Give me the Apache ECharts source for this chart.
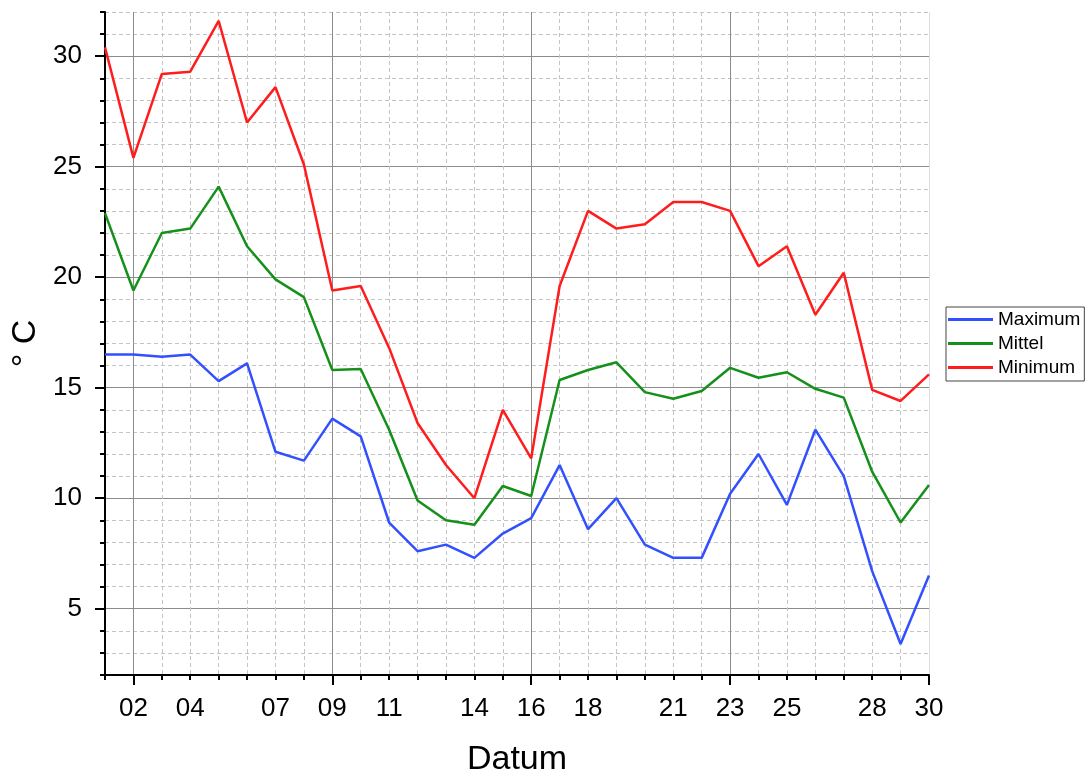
<!DOCTYPE html>
<html>
<head>
<meta charset="utf-8">
<script src="https://cdn.jsdelivr.net/npm/echarts@6/dist/echarts.min.js"></script>
<style>
  html, body { margin: 0; padding: 0; background: #fff; }
  #chart { width: 1090px; height: 775px; }
</style>
</head>
<body>
<div id="chart"></div>
<script>
// Tage im Monat
var days = [1,2,3,4,5,6,7,8,9,10,11,12,13,14,15,16,17,18,19,20,21,22,23,24,25,26,27,28,29,30];
var maximum = [16.5,16.5,16.4,16.5,15.3,16.1,12.1,11.7,13.6,12.8,8.9,7.6,7.9,7.3,8.4,9.1,11.5,8.6,10.0,7.9,7.3,7.3,10.2,12.0,9.7,13.1,11.0,6.7,3.4,6.5];
var mittel  = [22.9,19.4,22.0,22.2,24.1,21.4,19.9,19.1,15.8,15.85,13.1,9.9,9.0,8.8,10.55,10.1,15.35,15.8,16.15,14.8,14.5,14.85,15.9,15.45,15.7,14.95,14.55,11.2,8.9,10.6];
var minimum = [30.4,25.4,29.2,29.3,31.6,27.0,28.6,25.1,19.4,19.6,16.8,13.4,11.5,10.0,14.0,11.8,19.6,23.0,22.2,22.4,23.4,23.4,23.0,20.5,21.4,18.3,20.2,14.9,14.4,15.6];

// Achsenbeschriftung
var xLabelDays = [2,4,7,9,11,14,16,18,21,23,25,28,30];
var xMajorDays = [2,9,16,23];
var xMajorTicks = [2,9,16,23,30];
var yLabels = [5,10,15,20,25,30];
var yMin = 2, yMax = 32;

var xMinor = days.filter(function(d){ return xMajorDays.indexOf(d) < 0; });
var yAll = [];
for (var v = yMin; v <= yMax; v++) yAll.push(v);
var yMinor = yAll.filter(function(v){ return v % 5 !== 0; });

function pair(arr) {
  return arr.map(function(v, i){ return [days[i], v]; });
}

var font = 'Liberation Sans, Arial';
var myChart = echarts.init(document.getElementById('chart'));
myChart.setOption({
  animation: false,
  grid: { left: 105, right: 161, top: 12, bottom: 100, outerBoundsMode: 'none' },
  legend: {
    orient: 'vertical',
    left: 946, top: 307,
    padding: [3, 4, 4, 2],
    itemGap: 5,
    itemWidth: 45, itemHeight: 3,
    icon: 'rect',
    borderColor: '#444', borderWidth: 1,
    textStyle: { fontFamily: font, fontSize: 19, color: '#000' },
    data: ['Maximum', 'Mittel', 'Minimum']
  },
  xAxis: [{
    type: 'value', min: 1, max: 30, position: 'bottom',
    name: 'Datum', nameLocation: 'middle', nameGap: 68,
    nameTextStyle: { fontFamily: font, fontSize: 34, color: '#000' },
    axisLine: { lineStyle: { color: '#000', width: 2 } },
    axisTick: { customValues: xMinor, length: 5, lineStyle: { color: '#000', width: 2 } },
    axisLabel: {
      customValues: xLabelDays, margin: 21,
      fontFamily: font, fontSize: 26, color: '#000',
      formatter: function(v){ return (v < 10 ? '0' : '') + v; }
    },
    splitLine: { show: true, lineStyle: { color: '#c4c4c4', type: [4, 3], width: 1 } }
  }, {
    type: 'value', min: 1, max: 30, position: 'bottom',
    axisLine: { show: false },
    axisTick: { customValues: xMajorTicks, length: 10, lineStyle: { color: '#000', width: 2 } },
    axisLabel: { show: false }
  }, {
    type: 'value', min: 1, max: 30, position: 'bottom',
    axisLine: { show: false },
    axisTick: { show: false, customValues: xMajorDays },
    axisLabel: { show: false },
    splitLine: { show: true, lineStyle: { color: '#8c8c8c', width: 1 } }
  }],
  yAxis: [{
    type: 'value', min: yMin, max: yMax,
    name: '° C', nameLocation: 'middle', nameGap: 62,
    nameTextStyle: { fontFamily: font, fontSize: 34, color: '#000' },
    axisLine: { show: true, lineStyle: { color: '#000', width: 2 } },
    axisTick: { show: true, customValues: yMinor, length: 5, lineStyle: { color: '#000', width: 2 } },
    axisLabel: {
      customValues: yLabels, margin: 23,
      fontFamily: font, fontSize: 26, color: '#000'
    },
    splitLine: { show: true, lineStyle: { color: '#c4c4c4', type: [4, 3], width: 1 } }
  }, {
    type: 'value', min: yMin, max: yMax, position: 'left',
    axisLine: { show: false },
    axisTick: { show: true, customValues: yLabels, length: 10, lineStyle: { color: '#000', width: 2 } },
    axisLabel: { show: false },
    splitLine: { show: true, lineStyle: { color: '#8c8c8c', width: 1 } }
  }],
  series: [{
    name: 'Maximum', type: 'line', symbol: 'none',
    lineStyle: { width: 2.5, color: '#3350ff' }, itemStyle: { color: '#3350ff' },
    data: pair(maximum), z: 5
  }, {
    name: 'Mittel', type: 'line', symbol: 'none',
    lineStyle: { width: 2.5, color: '#15901a' }, itemStyle: { color: '#15901a' },
    data: pair(mittel), z: 5
  }, {
    name: 'Minimum', type: 'line', symbol: 'none',
    lineStyle: { width: 2.5, color: '#ff1c1c' }, itemStyle: { color: '#ff1c1c' },
    data: pair(minimum), z: 5
  }]
});
</script>
</body>
</html>
